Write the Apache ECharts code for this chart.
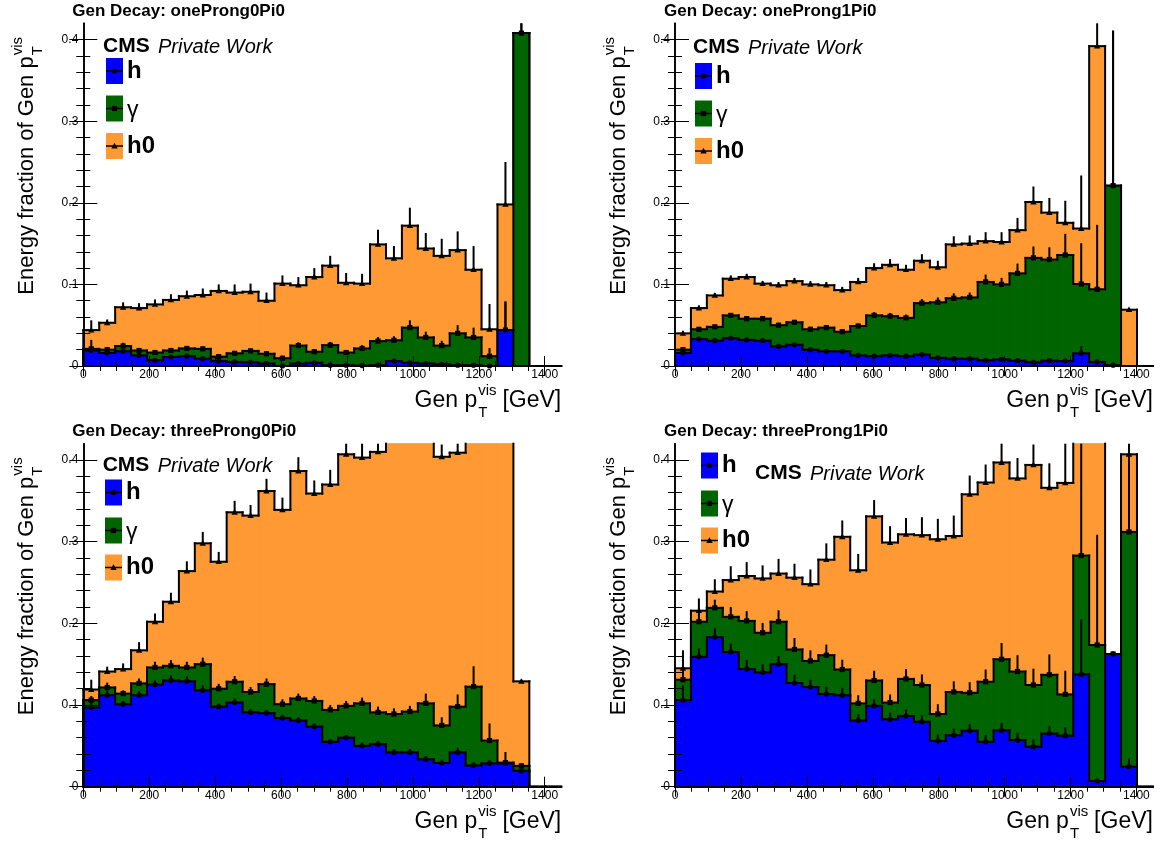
<!DOCTYPE html>
<html><head><meta charset="utf-8">
<script src="https://cdn.jsdelivr.net/npm/echarts@6/dist/echarts.min.js"></script>
<style>html,body{margin:0;padding:0;background:#fff}#c{width:1162px;height:843px}</style>
</head><body><div id="c"></div>
<script>
// ---------------- axis / binning ----------------
const X_MIN = 0, X_MAX = 1450, N_BINS = 30;
const Y_MIN = 0, Y_MAX = 0.42;
const xMajorTicks = [0, 200, 400, 600, 800, 1000, 1200, 1400];
const yMajorTicks = [0, 0.1, 0.2, 0.3, 0.4];
const panelNames = ['oneProng0Pi0', 'oneProng1Pi0', 'threeProng0Pi0', 'threeProng1Pi0'];
const legendLabels = ['h', 'γ', 'h0'];

// ---------------- oneProng0Pi0 ----------------
const h_1p0     = [0.019,0.016,0.018,0.013,0.007,0.011,0.012,0.009,0.006,0.005,0.0045,0.003,0,0.003,0.004,0.001,0.001,0.0005,0.001,0.006,0.004,0.003,0.002,0.001,0.001,0,0.044,0,0,0];
const gamma_1p0 = [0.002,0.004,0.0065,0.006,0.0095,0.008,0.0095,0.012,0.0055,0.0105,0.014,0.012,0.0095,0.022,0.0135,0.0245,0.0155,0.021,0.0295,0.0255,0.043,0.032,0.023,0.039,0.034,0.012,0,0.408,0,0];
const h0_1p0    = [0.023,0.033,0.0475,0.052,0.059,0.062,0.064,0.066,0.0805,0.0745,0.0725,0.065,0.0915,0.074,0.0915,0.0975,0.0855,0.0795,0.1185,0.1005,0.125,0.109,0.110,0.102,0.083,0.033,0.154,0,0,0];
const errH_1p0     = [0.005,0.002,0.002,0.002,0.002,0.002,0.002,0.002,0.002,0.002,0.002,0.002,0.001,0.002,0.002,0.001,0.001,0.001,0.001,0.002,0.002,0.001,0.001,0.001,0.001,0.001,0.035,0,0,0];
const errGamma_1p0 = [0.011,0.003,0.004,0.003,0.003,0.003,0.003,0.003,0.003,0.003,0.003,0.003,0.003,0.004,0.003,0.004,0.003,0.004,0.005,0.005,0.009,0.007,0.006,0.010,0.012,0.010,0.035,0.015,0,0];
const errH0_1p0    = [0.012,0.004,0.006,0.006,0.006,0.007,0.007,0.008,0.008,0.010,0.010,0.010,0.010,0.010,0.011,0.012,0.012,0.012,0.018,0.015,0.022,0.019,0.021,0.023,0.029,0.031,0.052,0.015,0,0];

// ---------------- oneProng1Pi0 ----------------
const h_1p1     = [0.016,0.033,0.031,0.034,0.032,0.031,0.024,0.026,0.020,0.018,0.018,0.013,0.012,0.013,0.012,0.014,0.010,0.009,0.009,0.007,0.008,0.0065,0.0045,0.0065,0.006,0.0155,0.005,0.001,0,0];
const gamma_1p1 = [0.004,0.012,0.017,0.028,0.026,0.027,0.026,0.0275,0.025,0.029,0.024,0.036,0.050,0.048,0.047,0.063,0.068,0.074,0.075,0.096,0.092,0.107,0.128,0.124,0.130,0.085,0.089,0.220,0,0];
const h0_1p1    = [0.020,0.026,0.0385,0.045,0.051,0.043,0.049,0.0505,0.055,0.052,0.051,0.054,0.058,0.063,0.059,0.052,0.043,0.066,0.066,0.050,0.052,0.053,0.0685,0.0575,0.0395,0.068,0.298,0,0.069,0];
const errH_1p1     = [0.002,0.002,0.002,0.002,0.002,0.002,0.002,0.002,0.002,0.002,0.002,0.002,0.002,0.002,0.002,0.002,0.002,0.002,0.002,0.002,0.002,0.002,0.002,0.002,0.002,0.009,0.002,0.001,0,0];
const errGamma_1p1 = [0.003,0.002,0.002,0.003,0.003,0.003,0.003,0.003,0.003,0.003,0.003,0.003,0.004,0.004,0.004,0.005,0.006,0.006,0.006,0.009,0.008,0.012,0.014,0.015,0.026,0.050,0.079,0.190,0,0];
const errH0_1p1    = [0.003,0.003,0.003,0.004,0.004,0.003,0.004,0.004,0.004,0.004,0.004,0.005,0.006,0.007,0.006,0.008,0.008,0.010,0.010,0.011,0.012,0.015,0.019,0.018,0.027,0.065,0.100,0.190,0.002,0];

// ---------------- threeProng0Pi0 ----------------
const h_3p0     = [0.097,0.112,0.101,0.112,0.125,0.130,0.129,0.118,0.098,0.103,0.091,0.090,0.084,0.081,0.0735,0.055,0.060,0.050,0.052,0.042,0.042,0.0335,0.029,0.042,0.026,0.0285,0.0285,0.0195,0,0];
const gamma_3p0 = [0.009,0.0095,0.013,0.0145,0.021,0.018,0.017,0.032,0.022,0.0255,0.025,0.0355,0.017,0.027,0.0315,0.039,0.039,0.052,0.039,0.047,0.050,0.0685,0.046,0.056,0.0965,0.028,0.001,0.006,0,0];
const h0_3p0    = [0.013,0.0195,0.030,0.0405,0.056,0.0785,0.118,0.148,0.1555,0.2075,0.216,0.2365,0.238,0.2785,0.254,0.276,0.308,0.301,0.319,0.341,0.348,0.328,0.329,0.311,0.3275,0.4235,0.4905,0.1035,0,0];
const errH_3p0     = [0.006,0.006,0.004,0.005,0.005,0.006,0.006,0.006,0.004,0.005,0.004,0.004,0.004,0.004,0.004,0.003,0.003,0.004,0.004,0.004,0.004,0.004,0.004,0.005,0.004,0.004,0.003,0.002,0,0];
const errGamma_3p0 = [0.005,0.006,0.004,0.006,0.007,0.007,0.007,0.008,0.006,0.007,0.006,0.007,0.006,0.006,0.006,0.006,0.006,0.007,0.007,0.007,0.007,0.012,0.010,0.015,0.025,0.021,0.013,0.003,0,0];
const errH0_3p0    = [0.012,0.006,0.007,0.010,0.010,0.011,0.012,0.014,0.012,0.014,0.013,0.015,0.015,0.017,0.016,0.018,0.018,0.018,0.015,0.020,0.020,0.020,0.015,0.015,0.020,0.020,0.020,0.002,0,0];

// ---------------- threeProng1Pi0 ----------------
const h_3p1     = [0.106,0.159,0.183,0.165,0.144,0.140,0.150,0.127,0.122,0.1135,0.112,0.081,0.099,0.0825,0.0865,0.0795,0.056,0.063,0.0685,0.055,0.069,0.057,0.049,0.065,0.0625,0.1375,0.007,0.1625,0.0245,0];
const gamma_3p1 = [0.025,0.043,0.036,0.043,0.059,0.0485,0.052,0.041,0.032,0.0475,0.0315,0.021,0.031,0.0205,0.0455,0.045,0.033,0.053,0.0465,0.0735,0.087,0.084,0.0755,0.072,0.0505,0.1455,0.1665,0,0.2875,0];
const h0_3p1    = [0.014,0.0135,0.020,0.045,0.055,0.0665,0.059,0.088,0.094,0.117,0.1625,0.163,0.201,0.196,0.177,0.1835,0.214,0.191,0.243,0.244,0.241,0.2365,0.2695,0.229,0.259,0.167,0.3265,0,0.095,0];
const errH_3p1     = [0.018,0.010,0.011,0.010,0.011,0.010,0.010,0.010,0.009,0.009,0.009,0.008,0.008,0.008,0.008,0.008,0.008,0.008,0.008,0.008,0.009,0.009,0.009,0.009,0.010,0.067,0.002,0.002,0.010,0];
const errGamma_3p1 = [0.012,0.012,0.010,0.012,0.012,0.012,0.014,0.014,0.013,0.013,0.012,0.010,0.012,0.010,0.012,0.013,0.012,0.013,0.013,0.015,0.020,0.020,0.020,0.025,0.029,0.180,0.135,0.002,0.100,0];
const errH0_3p1    = [0.022,0.015,0.015,0.017,0.017,0.016,0.018,0.017,0.018,0.020,0.020,0.020,0.020,0.020,0.020,0.022,0.025,0.025,0.023,0.022,0.025,0.025,0.025,0.030,0.050,0.100,0.100,0.002,0.050,0];

// ---------------- styling / layout ----------------
const FONT = "'Liberation Sans', Arial, Helvetica, sans-serif";
const C_H = '#0000ff', C_G = '#006400', C_H0 = '#ff9933';
const grids = [
  {left: 83.3, top: 23.3, width: 477.9, height: 342.7},
  {left: 675,  top: 23.3, width: 477.9, height: 342.7},
  {left: 83.3, top: 443.7, width: 477.9, height: 343},
  {left: 675,  top: 443.7, width: 477.9, height: 343}
];
const legendPos = [
  {boxX: 106, ys: [71, 108.5, 146], cmsX: 103, cmsY: 46},
  {boxX: 695, ys: [76, 113.5, 151], cmsX: 693, cmsY: 47},
  {boxX: 105, ys: [492.5, 530.5, 567.5], cmsX: 102.7, cmsY: 465.5},
  {boxX: 701, ys: [465.5, 503.5, 540.5], cmsX: 755, cmsY: 473}
];

const panels = [
  {h: h_1p0, g: gamma_1p0, h0: h0_1p0, eh: errH_1p0, eg: errGamma_1p0, eh0: errH0_1p0},
  {h: h_1p1, g: gamma_1p1, h0: h0_1p1, eh: errH_1p1, eg: errGamma_1p1, eh0: errH0_1p1},
  {h: h_3p0, g: gamma_3p0, h0: h0_3p0, eh: errH_3p0, eg: errGamma_3p0, eh0: errH0_3p0},
  {h: h_3p1, g: gamma_3p1, h0: h0_3p1, eh: errH_3p1, eg: errGamma_3p1, eh0: errH0_3p1}
];

const xMinorTicks = [];
for (let v = 50; v < X_MAX; v += 50) if (xMajorTicks.indexOf(v) < 0) xMinorTicks.push(v);
const yMinorTicks = [];
for (let k = 1; k * 0.02 < Y_MAX - 1e-9; k++) if (k % 5) yMinorTicks.push(+(k * 0.02).toFixed(2));

function markerShape(kind, cx, cy) {
  if (kind === 'circle') return {type: 'circle', shape: {cx: cx, cy: cy, r: 2.6}, style: {fill: '#000'}, z2: 12};
  if (kind === 'square') return {type: 'rect', shape: {x: cx - 2.6, y: cy - 2.6, width: 5.2, height: 5.2}, style: {fill: '#000'}, z2: 12};
  return {type: 'polygon', shape: {points: [[cx - 3.2, cy + 2.4], [cx + 3.2, cy + 2.4], [cx, cy - 3.2]]}, style: {fill: '#000'}, z2: 12};
}

function makeRender(levels, color, marker) {
  return function (params, api) {
    const i = params.dataIndex;
    const cs = params.coordSys;
    const top = cs.y, bot = cs.y + cs.height;
    const cl = y => Math.min(bot, Math.max(top, y));
    const lo = api.value(0), hi = api.value(1), v = api.value(2), e = api.value(3);
    const pL = api.coord([lo, v]), pR = api.coord([hi, 0]);
    const xL = pL[0], xR = pR[0], y0 = pR[1], yRaw = pL[1], yv = cl(yRaw);
    const prevY = cl(api.coord([lo, i > 0 ? levels[i - 1] : 0])[1]);
    const ls = {stroke: '#000', lineWidth: 2, lineCap: 'square'};
    const ch = [];
    if (y0 - yv > 0.01) ch.push({type: 'rect', shape: {x: xL, y: yv, width: xR - xL, height: y0 - yv},
      style: {fill: color, stroke: color, lineWidth: 1}, z2: 0});
    if (yRaw >= top - 0.5) ch.push({type: 'line', shape: {x1: xL, y1: yv, x2: xR, y2: yv}, style: ls, z2: 10});
    if (Math.abs(prevY - yv) > 0.01) ch.push({type: 'line', shape: {x1: xL, y1: prevY, x2: xL, y2: yv}, style: ls, z2: 10});
    if (i === levels.length - 1 && Math.abs(yv - y0) > 0.01) ch.push({type: 'line', shape: {x1: xR, y1: yv, x2: xR, y2: y0}, style: ls, z2: 10});
    if (yRaw > top + 0.5 && (v > 0 || e > 0)) {
      const xc = (xL + xR) / 2;
      if (e > 0) {
        const ye = cl(api.coord([lo, v + e])[1]);
        ch.push({type: 'line', shape: {x1: xc, y1: yv, x2: xc, y2: ye}, style: {stroke: '#000', lineWidth: 2}, z2: 11});
      }
      ch.push(markerShape(marker, xc, yv));
    }
    return {type: 'group', children: ch};
  };
}

const gridOpts = [], xAxes = [], yAxes = [], series = [], graphics = [];
const axisBase = {type: 'value', splitLine: {show: false}, z: 10, silent: true};
const labelText = {color: '#000', fontSize: 12, fontFamily: FONT};

panels.forEach((p, gi) => {
  gridOpts.push(Object.assign({containLabel: false}, grids[gi]));
  const xi = xAxes.length, yi = yAxes.length;
  const lineOn = {show: true, lineStyle: {color: '#000', width: 1.6}};
  [['bottom', true, xMajorTicks, 10], ['bottom', false, xMinorTicks, 5], ['top', true, xMajorTicks, 10], ['top', false, xMinorTicks, 5]].forEach((a, k) => {
    xAxes.push(Object.assign({}, axisBase, {
      gridIndex: gi, position: a[0], min: X_MIN, max: X_MAX,
      axisLine: a[1] ? lineOn : {show: false},
      axisTick: {show: true, inside: true, length: a[3], customValues: a[2], lineStyle: {color: '#000', width: 1}},
      axisLabel: k === 0 ? Object.assign({show: true, customValues: xMajorTicks, margin: 3, formatter: v => String(v)}, labelText) : {show: false}
    }));
  });
  [['left', true, yMajorTicks, 14], ['left', false, yMinorTicks, 7], ['right', true, yMajorTicks, 14], ['right', false, yMinorTicks, 7]].forEach((a, k) => {
    yAxes.push(Object.assign({}, axisBase, {
      gridIndex: gi, position: a[0], min: Y_MIN, max: Y_MAX,
      axisLine: a[1] ? lineOn : {show: false},
      axisTick: {show: true, inside: true, length: a[3], customValues: a[2], lineStyle: {color: '#000', width: 1}},
      axisLabel: k === 0 ? Object.assign({show: true, customValues: yMajorTicks, margin: 5,
        formatter: v => (Math.abs(v) < 1e-9 ? '0' : v.toFixed(1))}, labelText) : {show: false}
    }));
  });

  const lvH = p.h.map(v => v);
  const lvG = p.h.map((v, i) => v + p.g[i]);
  const lvT = lvG.map((v, i) => v + p.h0[i]);
  const bw = (X_MAX - X_MIN) / N_BINS;
  const layers = [
    {name: 'h0', lv: lvT, err: p.eh0, color: C_H0, marker: 'triangle', z: 3},
    {name: 'γ', lv: lvG, err: p.eg, color: C_G, marker: 'square', z: 4},
    {name: 'h', lv: lvH, err: p.eh, color: C_H, marker: 'circle', z: 5}
  ];
  layers.forEach(L => {
    series.push({
      type: 'custom', name: L.name, xAxisIndex: xi, yAxisIndex: yi, z: L.z, silent: true, animation: false,
      renderItem: makeRender(L.lv, L.color, L.marker),
      data: L.lv.map((v, i) => [X_MIN + i * bw, X_MIN + (i + 1) * bw, v, L.err[i]])
    });
  });

  // ----- texts -----
  const g = grids[gi];
  const R = g.left + g.width, B = g.top + g.height;
  const tx = (txt, x, y, size, align, weight) => ({type: 'text', x: x, y: y, z: 20,
    style: {text: txt, font: (weight || 'normal') + ' ' + size + 'px ' + FONT, fill: '#000', textAlign: align, textVerticalAlign: 'middle', align: align, verticalAlign: 'middle'}});
  graphics.push(tx('Gen Decay: ' + panelNames[gi], g.left - 11, g.top - 12, 17, 'left', 'bold'));
  // x title
  graphics.push(tx('Gen p', R - 84, B + 35, 23, 'right'));
  graphics.push(tx('vis', R - 83, B + 25, 15, 'left'));
  graphics.push(tx('T', R - 83, B + 47, 15, 'left'));
  graphics.push(tx('[GeV]', R, B + 35, 23, 'right'));
  // y title (rotated)
  graphics.push({type: 'group', x: g.left - 56, y: g.top + 12, rotation: Math.PI / 2, z: 20, children: [
    tx('Energy fraction of Gen p', -21, 0, 22, 'right'),
    tx('vis', -20, -9, 15, 'left'),
    tx('T', -20, 11, 15, 'left')
  ]});
  // CMS label
  const lp = legendPos[gi];
  graphics.push(tx('CMS', lp.cmsX, lp.cmsY, 21, 'left', 'bold'));
  graphics.push({type: 'text', x: lp.cmsX + 55, y: lp.cmsY + 1, z: 20,
    style: {text: 'Private Work', font: 'italic 20px ' + FONT, fill: '#000', textAlign: 'left', textVerticalAlign: 'middle', align: 'left', verticalAlign: 'middle'}});
  // legend
  const legCols = [C_H, C_G, C_H0], legMk = ['circle', 'square', 'triangle'];
  legendLabels.forEach((lab, k) => {
    const cy = lp.ys[k];
    graphics.push({type: 'rect', z: 20, shape: {x: lp.boxX, y: cy - 13, width: 17, height: 26}, style: {fill: legCols[k]}});
    graphics.push({type: 'line', z: 21, shape: {x1: lp.boxX, y1: cy, x2: lp.boxX + 17, y2: cy}, style: {stroke: '#000', lineWidth: 1.5}});
    const m = markerShape(legMk[k], lp.boxX + 8.5, cy);
    m.z = 22;
    graphics.push(m);
    if (lab === 'γ') graphics.push(tx(lab, lp.boxX + 21, cy + 2, 23, 'left'));
    else graphics.push(tx(lab, lp.boxX + 21, cy, 24, 'left', 'bold'));
  });
});

const chart = echarts.init(document.getElementById('c'), null, {renderer: 'canvas'});
chart.setOption({
  animation: false,
  backgroundColor: '#fff',
  grid: gridOpts,
  xAxis: xAxes,
  yAxis: yAxes,
  series: series,
  graphic: {elements: graphics}
});
</script>
</body></html>
